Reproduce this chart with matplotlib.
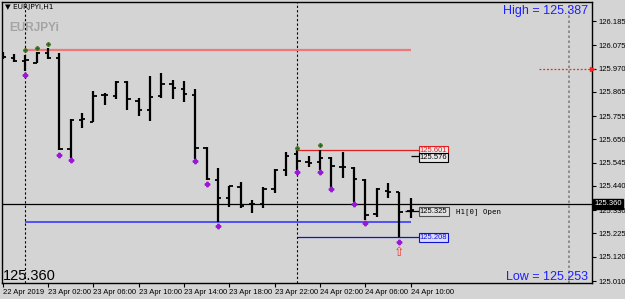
import matplotlib
matplotlib.use("Agg")
import matplotlib.pyplot as plt
import matplotlib.transforms as mtransforms

plt.rcParams["font.family"] = ["Liberation Sans", "DejaVu Sans"]

# EURJPYi H1 bars, index 0 = 22 Apr 22:00
opens = [126.025, 126.019, 126.004, 125.997, 126.039, 126.019, 125.605, 125.736, 125.727, 125.851,
         125.846, 125.911, 125.823, 125.783, 125.846, 125.899, 125.876, 125.849, 125.612, 125.466,
         125.386, 125.436, 125.357, 125.358, 125.427, 125.512, 125.583, 125.546, 125.549, 125.567,
         125.524, 125.519, 125.466, 125.311, 125.417, 125.411, 125.325]
highs = [126.045, 126.035, 126.031, 126.046, 126.062, 126.039, 125.741, 125.771, 125.869, 125.858,
         125.914, 125.914, 125.836, 125.936, 125.949, 125.918, 125.914, 125.876, 125.617, 125.519,
         125.439, 125.459, 125.376, 125.434, 125.518, 125.594, 125.601, 125.576, 125.604, 125.572,
         125.594, 125.524, 125.470, 125.429, 125.452, 125.414, 125.386]
lows = [126.013, 126.001, 125.959, 125.994, 126.013, 125.602, 125.565, 125.700, 125.727, 125.805,
        125.831, 125.783, 125.757, 125.734, 125.836, 125.831, 125.820, 125.560, 125.466, 125.275,
        125.346, 125.339, 125.316, 125.339, 125.406, 125.485, 125.512, 125.524, 125.512, 125.429,
        125.477, 125.368, 125.286, 125.299, 125.386, 125.208, 125.296]
closes = [126.022, 126.006, 126.009, 126.039, 126.016, 125.605, 125.736, 125.742, 125.847, 125.850,
          125.911, 125.831, 125.783, 125.843, 125.900, 125.881, 125.854, 125.612, 125.470, 125.386,
          125.439, 125.350, 125.357, 125.424, 125.512, 125.575, 125.552, 125.542, 125.567, 125.531,
          125.524, 125.470, 125.308, 125.426, 125.414, 125.321, 125.330]

green_idx = [2, 3, 4, 26, 28]
green_px = [126.055, 126.064, 126.080, 125.610, 125.623]
purple_idx = [2, 5, 6, 17, 18, 19, 26, 28, 29, 31, 32, 35]
purple_px = [125.942, 125.579, 125.558, 125.552, 125.447, 125.260, 125.501, 125.501, 125.424,
             125.357, 125.274, 125.186]

xtick_idx = [0, 4, 8, 12, 16, 20, 24, 28, 32, 36]
xtick_lbl = ["22 Apr 2019", "23 Apr 02:00", "23 Apr 06:00", "23 Apr 10:00", "23 Apr 14:00",
             "23 Apr 18:00", "23 Apr 22:00", "24 Apr 02:00", "24 Apr 06:00", "24 Apr 10:00"]
ytick_vals = [126.185, 126.075, 125.970, 125.865, 125.755, 125.650, 125.545, 125.440,
              125.330, 125.225, 125.120, 125.010]
separators = [2, 26]

bid = 125.360
res_hi = 126.055      # salmon level
sup_lo = 125.277      # blue level
day_hi = 125.601
day_hi2 = 125.576
day_lo = 125.208
h1_open = 125.325

BG = "#d4d4d4"
fig = plt.figure(figsize=(6.25, 2.99), dpi=100, facecolor=BG)
ax = fig.add_axes([2 / 625, 16 / 299, 590 / 625, 281 / 299], facecolor=BG)
ax.set_xlim(-0.06, 52.0)
ax.set_ylim(125.001, 126.271)

# bars
n = len(opens)
xs = list(range(n))
ax.vlines(xs, lows, highs, color="black", lw=1.6, zorder=5)
ax.hlines(opens, [x - 0.3 for x in xs], xs, color="black", lw=1.3, zorder=5)
ax.hlines(closes, xs, [x + 0.3 for x in xs], color="black", lw=1.3, zorder=5)

# fractal dots
ax.plot(green_idx, green_px, ls="none", marker="P", ms=3.2, color="#1d6a1d",
        mec="#5a6a18", mew=0.4, zorder=6)
ax.plot(purple_idx, purple_px, ls="none", marker="P", ms=3.2, color="#9a16d8", zorder=6)
ax.text(35, 125.139, "\u21e7", color="#ff3030", fontsize=9, ha="center", va="center",
        family="DejaVu Sans", zorder=6)

# separators
for s in separators:
    ax.axvline(s, color="black", lw=0.8, ls=(0, (2, 2)), zorder=2)
ax.axvline(50, color="#808080", lw=1.2, ls=(0, (1.5, 1.5)), zorder=2)

# levels
ax.axhline(bid, color="black", lw=0.9, zorder=3)
ax.hlines(res_hi, 2, 36, color="#f07878", lw=1.6, zorder=3)
ax.hlines(sup_lo, 2, 36, color="#3a3aff", lw=1.2, zorder=3)
ax.hlines(day_hi, 26, 36.7, color="#e02020", lw=0.9, zorder=3)
ax.hlines(day_lo, 26, 36.7, color="#1010d0", lw=0.9, zorder=3)
ax.hlines(day_hi2, 36.0, 36.7, color="black", lw=0.9, zorder=3)
ax.hlines(h1_open, 35.5, 36.7, color="black", lw=0.9, zorder=3)
ax.hlines(125.970, 47.33, 52.0, color="#ff2020", lw=0.9, ls=(0, (1.5, 1.5)), zorder=3)
ax.plot([52.0], [125.970], marker=">", ms=3, color="#ff2020", clip_on=False, zorder=7)

# price labels
lbl = dict(fontsize=5.5, va="center", ha="left", zorder=8)
ax.text(36.8, day_hi, "125.601", color="#e02020",
        bbox=dict(boxstyle="square,pad=0.15", fc="#e8e8e8", ec="#e02020", lw=0.8), **lbl)
ax.text(36.8, day_hi2 - 0.008, "125.576", color="black",
        bbox=dict(boxstyle="square,pad=0.1", fc="#e8e8e8", ec="black", lw=0.8), **lbl)
ax.text(36.8, h1_open, "125.325", color="black",
        bbox=dict(boxstyle="square,pad=0.15", fc="#e0e0e0", ec="#505050", lw=0.8), **lbl)
ax.text(40.0, h1_open, "H1[0] Open", color="black", fontsize=5.3, va="center", ha="left",
        family="DejaVu Sans Mono")
ax.text(36.8, day_lo, "125.208", color="#1010d0",
        bbox=dict(boxstyle="square,pad=0.15", fc="#dcdcff", ec="#1010d0", lw=0.8), **lbl)

# axes styling
ax.yaxis.tick_right()
ax.set_yticks(ytick_vals)
ax.set_yticklabels([f"{v:.3f}" for v in ytick_vals])
ax.tick_params(axis="y", direction="out", length=3, width=0.8, labelsize=5.5, pad=1.5)
ax.set_xticks(xtick_idx)
ax.set_xticklabels(xtick_lbl)
ax.tick_params(axis="x", direction="out", length=3, width=0.8, labelsize=5.5, pad=1.5)
for t in ax.get_xticklabels():
    t.set_ha("left")
for sp in ax.spines.values():
    sp.set_color("black")
    sp.set_linewidth(1.0)

trans = mtransforms.blended_transform_factory(ax.transAxes, ax.transData)
ax.text(1.004, bid, "125.360", transform=trans, color="white", fontsize=5.5, va="center",
        ha="left", bbox=dict(boxstyle="square,pad=0.2", fc="black", ec="black"), zorder=9,
        clip_on=False)

# overlay texts
fig.text(5 / 625, 1 - 7 / 299, "\u25bc EURJPYi,H1", fontsize=5.3, va="center", ha="left",
         family=["DejaVu Sans"])
fig.text(9 / 625, 1 - 28 / 299, "EURJPYi", fontsize=8.5, fontweight="bold", color="#a4a4a4",
         va="center", ha="left")
fig.text(588 / 625, 1 - 11 / 299, "High = 125.387", fontsize=9, color="#1e1eff",
         va="center", ha="right")
fig.text(588 / 625, 1 - 277 / 299, "Low = 125.253", fontsize=9, color="#1e1eff",
         va="center", ha="right")
fig.text(3 / 625, 1 - 276 / 299, "125.360", fontsize=10.5, color="black", va="center", ha="left")

fig.savefig("out.png", dpi=100, facecolor=BG)
